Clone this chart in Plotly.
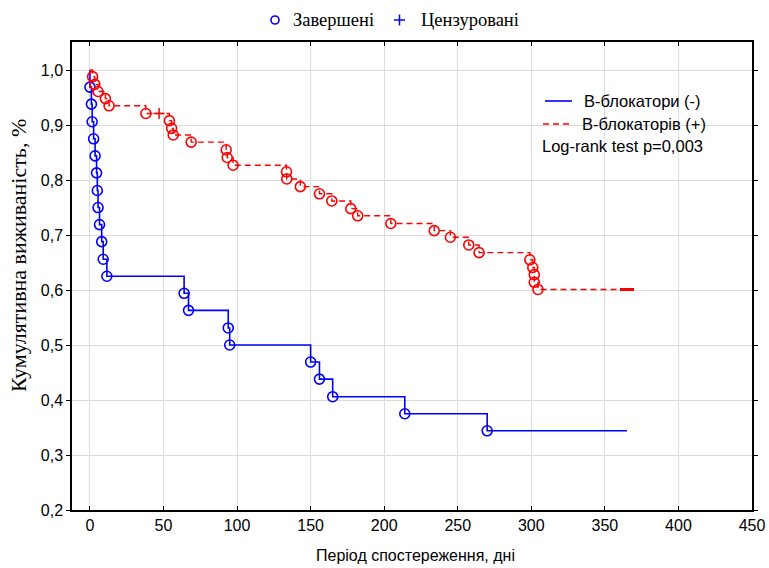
import plotly.graph_objects as go

# Kaplan-Meier estimates: event times (days) and cumulative survival after each event
blue_name = "В-блокатори (-)"
blue_times = [0, 1, 1.5, 2.5, 3.5, 4.5, 5, 5.5, 6.5, 8, 9, 11.5,
              64, 67, 94, 95, 150, 156, 165, 214, 270]
blue_surv = [0.969, 0.938, 0.906, 0.875, 0.844, 0.813, 0.781, 0.750, 0.719, 0.688, 0.656, 0.625,
             0.594, 0.563, 0.531, 0.500, 0.469, 0.438, 0.406, 0.375, 0.344]
blue_end = 365

red_name = "В-блокаторів (+)"
red_times = [1.8, 3.3, 5.5, 10.5, 13, 38, 54, 55.5, 56.6, 68.8, 92.6, 93.3, 97.3,
             133.6, 133.8, 143, 156, 164.4, 177.3, 182, 204.5, 234, 245, 257.5, 264.5,
             299, 301, 302, 302, 304.5]
red_surv = [0.988, 0.974, 0.961, 0.948, 0.935, 0.921, 0.908, 0.894, 0.882, 0.869, 0.855, 0.841, 0.827,
            0.815, 0.802, 0.788, 0.775, 0.762, 0.748, 0.735, 0.721, 0.708, 0.696, 0.682, 0.668,
            0.655, 0.641, 0.628, 0.614, 0.601]
red_censored = [47, 364, 366]
red_end = 368

logrank_text = "Log-rank test p=0,003"
marker_legend = ["Завершені", "Цензуровані"]
x_title = "Період спостереження, дні"
y_title = "Кумулятивна виживаність, %"
x_ticks = [0, 50, 100, 150, 200, 250, 300, 350, 400, 450]
y_ticks = [0.2, 0.3, 0.4, 0.5, 0.6, 0.7, 0.8, 0.9, 1.0]

BLUE = "rgb(0,0,255)"
RED = "rgb(255,0,0)"
SANS = "Liberation Sans, Arial, sans-serif"
SERIF = "Liberation Serif, Times New Roman, serif"

W, H = 769, 568
ML, MR, MT, MB = 72, 17, 42, 58
PW, PH = W - ML - MR, H - MT - MB


def px(xp):
    """Horizontal pixel position -> paper coordinate."""
    return (xp - ML) / PW


def py(yp):
    """Vertical pixel position (from top) -> paper coordinate."""
    return (H - MB - yp) / PH


def step_path(times, surv, end):
    """Step function starting at S=1 at t=0 and held until the end of follow-up."""
    xs = [0] + list(times) + [end]
    ys = [1.0] + list(surv) + [surv[-1]]
    return xs, ys


def surv_at(t, times, surv):
    s = 1.0
    for ti, si in zip(times, surv):
        if ti <= t:
            s = si
    return s


fig = go.Figure()

bx, by = step_path(blue_times, blue_surv, blue_end)
rx, ry = step_path(red_times, red_surv, red_end)

# Survival curves
fig.add_trace(go.Scatter(x=bx, y=by, mode="lines", line_shape="hv",
                         line=dict(color=BLUE, width=1.6), name=blue_name))
fig.add_trace(go.Scatter(x=rx, y=ry, mode="lines", line_shape="hv",
                         line=dict(color=RED, width=1.4, dash="6px,4px"), name=red_name))

# Completed observations (events)
circle = dict(symbol="circle-open", size=10, line=dict(width=1.6))
fig.add_trace(go.Scatter(x=blue_times, y=blue_surv, mode="markers",
                         marker=dict(color=BLUE, **circle)))
fig.add_trace(go.Scatter(x=red_times, y=red_surv, mode="markers",
                         marker=dict(color=RED, **circle)))

# Censored observations
cens_y = [surv_at(t, red_times, red_surv) for t in red_censored]
cens_sym = ["cross-thin" if t < red_end - 10 else "line-ew" for t in red_censored]
cens_w = [1.5 if t < red_end - 10 else 3 for t in red_censored]
fig.add_trace(go.Scatter(x=red_censored, y=cens_y, mode="markers",
                         marker=dict(symbol=cens_sym, size=8, color=RED,
                                     line=dict(color=RED, width=cens_w))))

shapes = []
annots = []

# Marker-type key at the top
r = 4
shapes.append(dict(type="circle", xref="paper", yref="paper",
                   x0=px(275 - r), x1=px(275 + r), y0=py(20 + r), y1=py(20 - r),
                   line=dict(color=BLUE, width=1.6)))
shapes.append(dict(type="line", xref="paper", yref="paper",
                   x0=px(394), x1=px(405), y0=py(20), y1=py(20),
                   line=dict(color=BLUE, width=1.5)))
shapes.append(dict(type="line", xref="paper", yref="paper",
                   x0=px(399.5), x1=px(399.5), y0=py(14.5), y1=py(25.5),
                   line=dict(color=BLUE, width=1.5)))
for label, xl in zip(marker_legend, [291, 419]):
    annots.append(dict(text=label, x=px(xl), y=py(20), xanchor="left", yanchor="middle",
                       font=dict(family=SERIF, size=18.5, color="black")))

# Curve key inside the plot
shapes.append(dict(type="line", xref="paper", yref="paper",
                   x0=px(545), x1=px(572), y0=py(101), y1=py(101),
                   line=dict(color=BLUE, width=1.6)))
shapes.append(dict(type="line", xref="paper", yref="paper",
                   x0=px(543), x1=px(572), y0=py(124), y1=py(124),
                   line=dict(color=RED, width=1.4, dash="6px,4px")))
for label, xl, yl in [(blue_name, 582, 101), (red_name, 580, 124), (logrank_text, 540, 146)]:
    annots.append(dict(text=label, x=px(xl), y=py(yl), xanchor="left", yanchor="middle",
                       font=dict(family=SANS, size=16.5, color="black")))

# Axis titles
annots.append(dict(text=x_title, x=px(415), y=py(555), xanchor="center", yanchor="middle",
                   font=dict(family=SANS, size=16, color="black")))
annots.append(dict(text=y_title, x=px(18), y=py(256), xanchor="center", yanchor="middle",
                   textangle=-90, font=dict(family=SERIF, size=22, color="black")))

for a in annots:
    a.update(xref="paper", yref="paper", showarrow=False)

axis_common = dict(showline=True, linecolor="black", linewidth=1.5, mirror="ticks",
                   showgrid=True, gridcolor="#dcdcdc", gridwidth=1, zeroline=False,
                   ticklen=4, tickcolor="black",
                   tickfont=dict(family=SANS, size=16, color="black"))

fig.update_layout(
    width=W, height=H,
    margin=dict(l=ML, r=MR, t=MT, b=MB, autoexpand=False),
    paper_bgcolor="white", plot_bgcolor="white",
    separators=", ",
    showlegend=False,
    xaxis=dict(range=[-12.2, 450], tickvals=x_ticks, ticks="inside", **axis_common),
    yaxis=dict(range=[0.2, 1.051], tickvals=y_ticks, tickformat=".1f", ticks="outside",
               **axis_common),
    shapes=shapes,
    annotations=annots,
)

fig.write_html("out.html")
